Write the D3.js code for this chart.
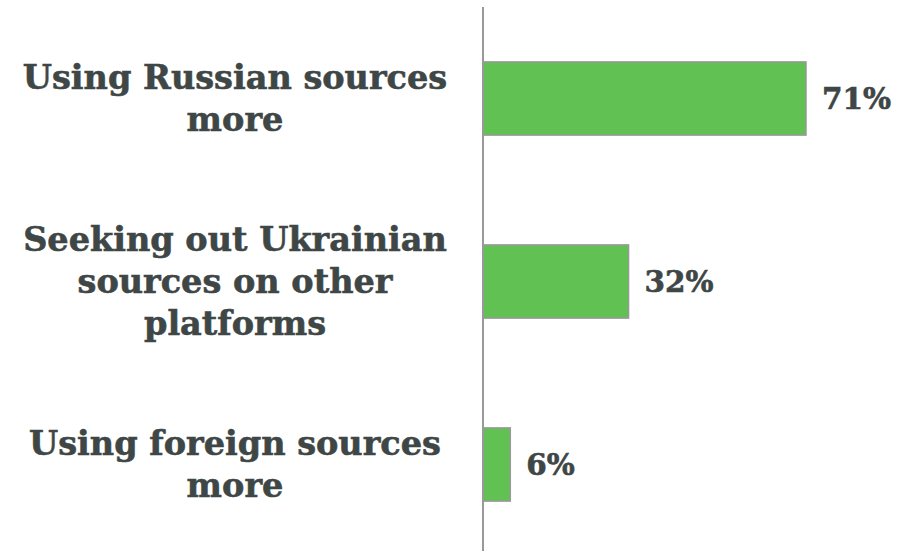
<!DOCTYPE html>
<html>
<head>
<meta charset="utf-8">
<script src="https://cdn.jsdelivr.net/npm/d3@7"></script>
<style>
  html, body { margin: 0; padding: 0; background: #fff; }
  svg { display: block; }
  text { font-family: "DejaVu Serif", serif; font-weight: bold; fill: #3e4646; stroke: #3e4646; stroke-width: 0.6px; }
</style>
</head>
<body>
<svg id="chart" width="909" height="551"></svg>
<script>
const categories = [
  "Using Russian sources more",
  "Seeking out Ukrainian sources on other platforms",
  "Using foreign sources more"
];
const categoryLines = [
  ["Using Russian sources", "more"],
  ["Seeking out Ukrainian", "sources on other", "platforms"],
  ["Using foreign sources", "more"]
];
const values = [71, 32, 6];
const valueLabels = ["71%", "32%", "6%"];

const W = 909, H = 551;
const svg = d3.select("#chart");

const x = d3.scaleLinear().domain([0, 71]).range([483, 806]);
const y = d3.scaleBand().domain(categories).range([7, 556]).paddingInner(0.6).paddingOuter(0.3);

// bars
svg.selectAll("rect.bar").data(values).join("rect")
  .attr("class", "bar")
  .attr("x", x(0))
  .attr("y", (d, i) => y(categories[i]))
  .attr("width", d => x(d) - x(0))
  .attr("height", y.bandwidth())
  .attr("fill", "#62c153")
  .attr("stroke", "#999999")
  .attr("stroke-width", 1.5);

// axis line
svg.append("line")
  .attr("x1", x(0)).attr("x2", x(0))
  .attr("y1", 7).attr("y2", H)
  .attr("stroke", "#999999").attr("stroke-width", 2);

// category labels
const fs = 33.5, lh = 42, vfs = 29.5;
categories.forEach((c, i) => {
  const lines = categoryLines[i];
  const cy = y(c) + y.bandwidth() / 2;
  const t = svg.append("text")
    .attr("text-anchor", "middle")
    .attr("font-size", fs);
  lines.forEach((ln, j) => {
    t.append("tspan")
      .attr("x", 235)
      .attr("y", cy + (j - (lines.length - 1) / 2) * lh)
      .attr("dy", "0.35em")
      .text(ln);
  });
});

// value labels
svg.selectAll("text.val").data(values).join("text")
  .attr("class", "val")
  .attr("x", d => x(d) + 16)
  .attr("y", (d, i) => y(categories[i]) + y.bandwidth() / 2)
  .attr("dy", "0.35em")
  .attr("font-size", vfs)
  .text((d, i) => valueLabels[i]);
</script>
</body>
</html>
